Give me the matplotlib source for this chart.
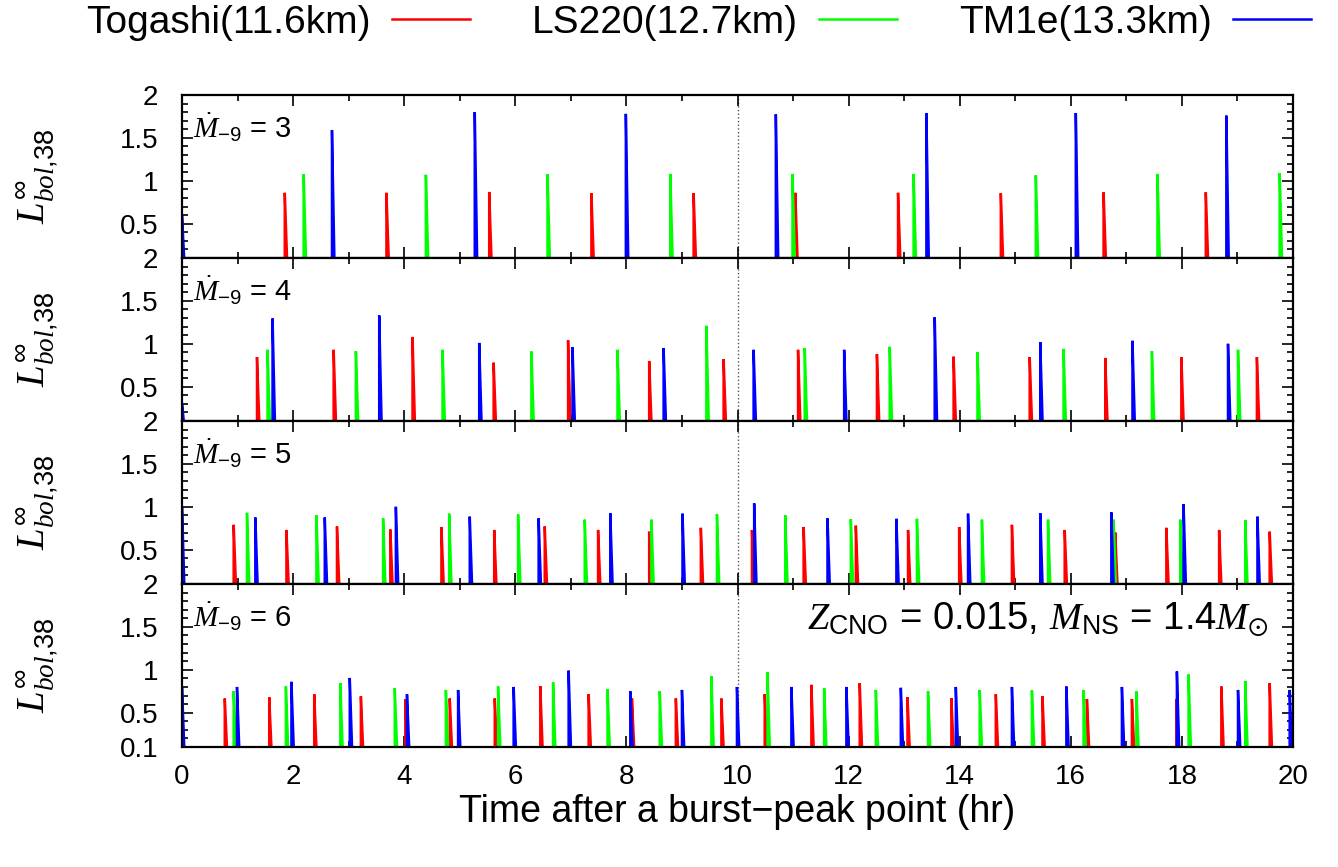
import matplotlib
matplotlib.use("Agg")
import matplotlib.pyplot as plt
from matplotlib.ticker import MultipleLocator, FixedLocator, FormatStrFormatter

plt.rcParams["font.family"] = ["Liberation Sans", "DejaVu Sans"]
plt.rcParams["mathtext.fontset"] = "custom"
plt.rcParams["mathtext.rm"] = "Liberation Sans"
plt.rcParams["mathtext.it"] = "Liberation Serif:italic"
plt.rcParams["mathtext.bf"] = "Liberation Sans:bold"
plt.rcParams["mathtext.fallback"] = "stix"

# burst peak times (hr) and peak luminosities for each accretion rate
mdot_values = [3, 4, 5, 6]
eos_labels = ["Togashi(11.6km)", "LS220(12.7km)", "TM1e(13.3km)"]
eos_colors = ["#ff0000", "#00ff00", "#0000ff"]

# Mdot = 3
tog3_t = [1.85, 3.68, 5.53, 7.37, 9.21, 11.04, 12.89, 14.74, 16.59, 18.43]
tog3_p = [0.86, 0.86, 0.87, 0.855, 0.855, 0.86, 0.86, 0.855, 0.865, 0.865]
ls3_t = [2.19, 4.39, 6.58, 8.79, 10.99, 13.17, 15.37, 17.56, 19.76]
ls3_p = [1.075, 1.07, 1.075, 1.08, 1.08, 1.08, 1.065, 1.08, 1.09]
tm3_t = [0.0, 2.70, 5.27, 7.99, 10.69, 13.40, 16.09, 18.80]
tm3_p = [0.6, 1.59, 1.80, 1.78, 1.775, 1.79, 1.79, 1.76]

# Mdot = 4
tog4_t = [1.35, 2.73, 4.15, 5.61, 6.95, 8.41, 9.75, 11.09, 12.51, 13.89,
          15.26, 16.62, 17.99, 19.35]
tog4_p = [0.845, 0.93, 1.08, 0.78, 1.04, 0.80, 0.82, 0.93, 0.88, 0.85,
          0.845, 0.835, 0.845, 0.845]
ls4_t = [1.54, 3.13, 4.69, 6.29, 7.84, 9.44, 11.21, 12.74, 14.32, 15.87,
         17.46, 19.01]
ls4_p = [0.93, 0.915, 0.93, 0.91, 0.93, 1.21, 0.95, 0.965, 0.905, 0.94,
         0.915, 0.93]
tm4_t = [0.0, 1.63, 3.55, 5.35, 7.03, 8.67, 10.29, 11.92, 13.55, 15.45,
         17.11, 18.83]
tm4_p = [0.3, 1.295, 1.33, 1.01, 0.96, 0.95, 0.93, 0.93, 1.31, 1.02,
         1.035, 1.0]

# Mdot = 5
tog5_t = [0.93, 1.88, 2.79, 3.75, 4.67, 5.62, 6.53, 7.49, 8.41, 9.34,
          10.26, 11.19, 12.13, 13.07, 13.99, 14.94, 15.89, 16.80, 17.72,
          18.67, 19.58]
tog5_p = [0.79, 0.73, 0.77, 0.735, 0.765, 0.73, 0.77, 0.73, 0.71, 0.755,
          0.73, 0.765, 0.78, 0.73, 0.765, 0.79, 0.73, 0.70, 0.755,
          0.73, 0.71]
ls5_t = [1.17, 2.42, 3.62, 4.81, 6.05, 7.25, 8.45, 9.63, 10.86, 12.04,
         13.23, 14.40, 15.59, 16.77, 17.97, 19.14]
ls5_p = [0.93, 0.90, 0.865, 0.92, 0.91, 0.85, 0.85, 0.915, 0.90, 0.855,
         0.86, 0.85, 0.85, 0.85, 0.85, 0.845]
tm5_t = [0.0, 1.32, 2.57, 3.85, 5.18, 6.42, 7.71, 9.01, 10.30, 11.62,
         12.86, 14.15, 15.45, 16.73, 18.03, 19.36]
tm5_p = [1.0, 0.875, 0.875, 1.0, 0.885, 0.865, 0.925, 0.92, 1.04, 0.865,
         0.86, 0.92, 0.925, 0.935, 1.03, 0.885]

# Mdot = 6
tog6_t = [0.77, 1.57, 2.38, 3.22, 4.02, 4.82, 5.63, 6.45, 7.32, 8.10,
          8.89, 9.71, 10.49, 11.33, 12.20, 13.06, 13.85, 14.65, 15.49,
          16.29, 17.10, 17.90, 18.71, 19.58]
tog6_p = [0.665, 0.68, 0.715, 0.69, 0.655, 0.665, 0.665, 0.81, 0.715, 0.665,
          0.665, 0.665, 0.715, 0.825, 0.845, 0.68, 0.67, 0.715, 0.69,
          0.66, 0.66, 0.66, 0.805, 0.845]
ls6_t = [0.93, 1.87, 2.85, 3.83, 4.75, 5.69, 6.68, 7.66, 8.60, 9.53,
         10.54, 11.56, 12.49, 13.43, 14.36, 15.30, 16.23, 17.18, 18.12, 19.14]
ls6_p = [0.75, 0.805, 0.845, 0.785, 0.765, 0.805, 0.855, 0.775, 0.75, 0.925,
         0.97, 0.785, 0.765, 0.75, 0.765, 0.76, 0.765, 0.75, 0.945, 0.87]
tm6_t = [0.0, 0.99, 1.97, 3.02, 4.05, 4.97, 5.97, 6.96, 8.07, 9.00, 9.99,
         10.97, 11.96, 12.94, 13.93, 14.94, 15.92, 16.92, 17.91, 19.01, 19.94]
tm6_p = [0.8, 0.80, 0.86, 0.905, 0.715, 0.765, 0.80, 0.99, 0.75, 0.765, 0.80,
         0.80, 0.80, 0.79, 0.80, 0.80, 0.805, 0.80, 0.98, 0.765, 0.765]

panels = [
    [(tog3_t, tog3_p), (ls3_t, ls3_p), (tm3_t, tm3_p)],
    [(tog4_t, tog4_p), (ls4_t, ls4_p), (tm4_t, tm4_p)],
    [(tog5_t, tog5_p), (ls5_t, ls5_p), (tm5_t, tm5_p)],
    [(tog6_t, tog6_p), (ls6_t, ls6_p), (tm6_t, tm6_p)],
]

BASE = 0.02     # quiescent level, below the plotted range
DECAY = 0.045   # width of the decay tail (hr)


def burst_path(times, peaks):
    xs, ys = [], []
    for t, p in zip(times, peaks):
        xs += [t, t, t + DECAY]
        ys += [BASE, p, BASE]
    return xs, ys


fig = plt.figure(figsize=(13.38, 8.67), dpi=100)
left, right = 182 / 1338, 1293 / 1338
top, bottom = 1 - 95 / 867, 1 - 747 / 867
h = (top - bottom) / 4

axes = []
for i, (mdot, series) in enumerate(zip(mdot_values, panels)):
    ax = fig.add_axes([left, top - (i + 1) * h, right - left, h])
    axes.append(ax)
    handles = []
    for (t, p), col in zip(series, eos_colors):
        xs, ys = burst_path(t, p)
        ln, = ax.plot(xs, ys, color=col, lw=1.8, solid_joinstyle="miter")
        handles.append(ln)
    ax.axvline(10, color="#555555", ls=":", lw=1.0, zorder=0)

    ax.set_xlim(0, 20)
    ax.set_ylim(0.1, 2.0)
    ax.xaxis.set_major_locator(MultipleLocator(2))
    ax.xaxis.set_minor_locator(MultipleLocator(1))
    if i == 3:
        ax.yaxis.set_major_locator(FixedLocator([0.1, 0.5, 1.0, 1.5, 2.0]))
    else:
        ax.yaxis.set_major_locator(FixedLocator([0.5, 1.0, 1.5, 2.0]))
    ax.yaxis.set_minor_locator(MultipleLocator(0.1))
    ax.yaxis.set_major_formatter(FormatStrFormatter("%g"))
    ax.tick_params(which="both", direction="in", top=True, right=True,
                   labelsize=20, width=1.2)
    ax.tick_params(which="major", length=8)
    ax.tick_params(which="minor", length=4.5)
    ax.tick_params(axis="y", pad=17)
    ax.tick_params(axis="x", pad=12)
    if i < 3:
        ax.tick_params(axis="x", labelbottom=False)
    for s in ax.spines.values():
        s.set_linewidth(1.6)
        s.set_zorder(3)

    ax.set_ylabel(r"$L^{\infty}_{\mathit{bol{,}38}}$", fontsize=28)
    ax.yaxis.set_label_coords(-0.11, 0.5)
    ax.text(0.01, 0.80, r"$\dot{M}_{-9}$ = %d" % mdot, transform=ax.transAxes,
            fontsize=21, ha="left", va="center")

axes[3].text(0.978, 0.78,
             r"$Z_{\mathrm{CNO}}$ = 0.015, $M_{\mathrm{NS}}$ = 1.4$M_{\odot}$",
             transform=axes[3].transAxes, fontsize=27.5, ha="right", va="center")
axes[3].set_xlabel("Time after a burst\u2212peak point (hr)", fontsize=27)
axes[3].xaxis.set_label_coords(0.5, -0.29)

fig.legend(handles, eos_labels, loc="upper center", bbox_to_anchor=(0.522, 1.035),
           ncol=3, frameon=False, markerfirst=False, fontsize=28,
           handlelength=2.0, handletextpad=0.55, columnspacing=1.6)

fig.savefig("out.png", dpi=100)
